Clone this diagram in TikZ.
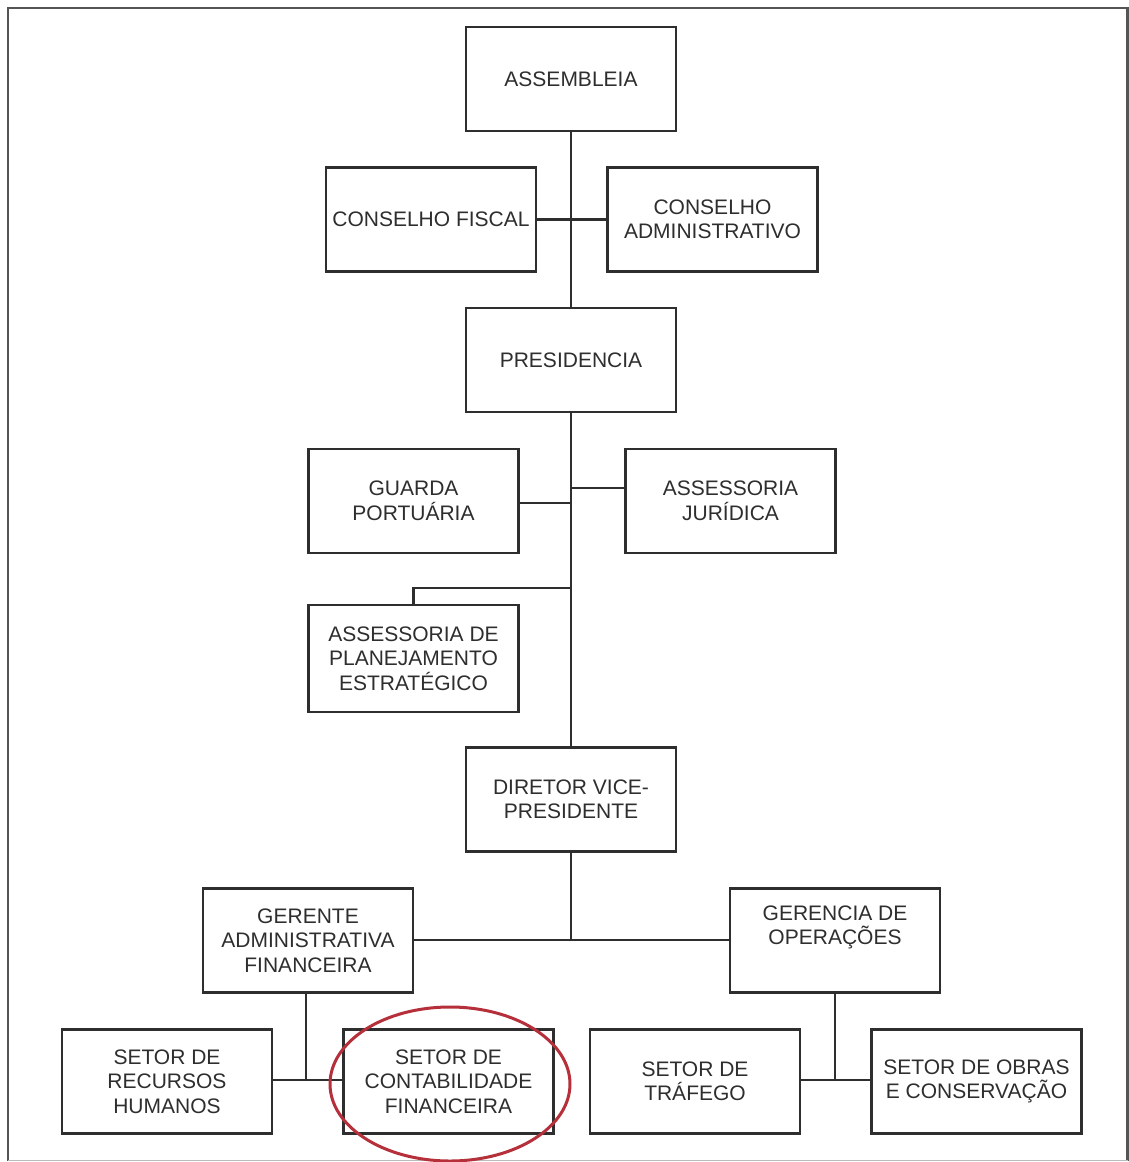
\documentclass[tikz,border=0pt]{standalone}
\usepackage{fontspec}
\setmainfont{Liberation Sans}
\definecolor{ink}{HTML}{2E2E2E}
\definecolor{frm}{HTML}{555555}
\definecolor{ring}{HTML}{B5303A}
\begin{document}
\begin{tikzpicture}[x=1pt,y=-1pt,
  box/.style={draw=ink,line width=2.2pt,rectangle,minimum width=210pt,minimum height=104pt,
    align=center,inner sep=0pt,text=ink,font=\fontsize{21}{24.5}\selectfont},
  conn/.style={draw=ink,line width=2.2pt}]
\useasboundingbox (0,0) rectangle (1129,1162);
\fill[white] (0,0) rectangle (1129,1162);
\draw[frm,line width=2.2pt] (8,1161) -- (8,8) -- (1127.5,8) -- (1127.5,1161);
\draw[frm!40,line width=1pt] (8,1160) -- (1127.5,1160);

\node[box] (asm) at (571,79) {ASSEMBLEIA};
\node[box] (cf) at (431,219.5) {CONSELHO FISCAL};
\node[box] (ca) at (712.5,219.5) {CONSELHO\\ADMINISTRATIVO};
\node[box] (pres) at (571,360) {PRESIDENCIA};
\node[box] (gp) at (413.5,501) {GUARDA\\PORTUÁRIA};
\node[box] (aj) at (730.5,501) {ASSESSORIA\\JURÍDICA};
\node[box,minimum height=107pt] (ape) at (413.5,658.5) {ASSESSORIA DE\\PLANEJAMENTO\\ESTRATÉGICO};
\node[box] (dvp) at (571,799.5) {DIRETOR VICE-\\PRESIDENTE};
\node[box] (gaf) at (308,940.5) {GERENTE\\ADMINISTRATIVA\\FINANCEIRA};
\node[box] (go) at (835,940.5) {GERENCIA DE\\OPERAÇÕES\\[6pt]};
\node[box] (srh) at (167,1081.5) {SETOR DE\\RECURSOS\\HUMANOS};
\node[box] (scf) at (448.5,1081.5) {SETOR DE\\CONTABILIDADE\\FINANCEIRA};
\node[box] (st) at (695,1081.5) {SETOR DE\\TRÁFEGO};
\node[box] (so) at (976.5,1081.5) {SETOR DE OBRAS\\E CONSERVAÇÃO};

% trunk
\coordinate (j2) at (571,503);
\coordinate (j3) at (571,488);
\coordinate (j4) at (571,588);
\coordinate (j4l) at (413.5,588);
\coordinate (j5) at (571,940);
\draw[conn] (asm.south) -- (pres.north);
\draw[conn] (cf.east) -- (ca.west);
\draw[conn] (pres.south) -- (dvp.north);
\draw[conn] (gp.east |- j2) -- (j2);
\draw[conn] (j3) -- (aj.west |- j3);
\draw[conn] (j4) -- (j4l) -- (ape.north);
\draw[conn] (dvp.south) -- (j5);
\draw[conn] (gaf.east |- j5) -- (go.west |- j5);
% lower branches
\coordinate (k1) at (306,1080);
\coordinate (k2) at (835,1080);
\draw[conn] (gaf.south -| k1) -- (k1);
\draw[conn] (srh.east |- k1) -- (scf.west |- k1);
\draw[conn] (go.south -| k2) -- (k2);
\draw[conn] (st.east |- k2) -- (so.west |- k2);

\draw[ring,line width=3pt] (450,1084) ellipse [x radius=120pt, y radius=77pt];
\end{tikzpicture}
\end{document}
